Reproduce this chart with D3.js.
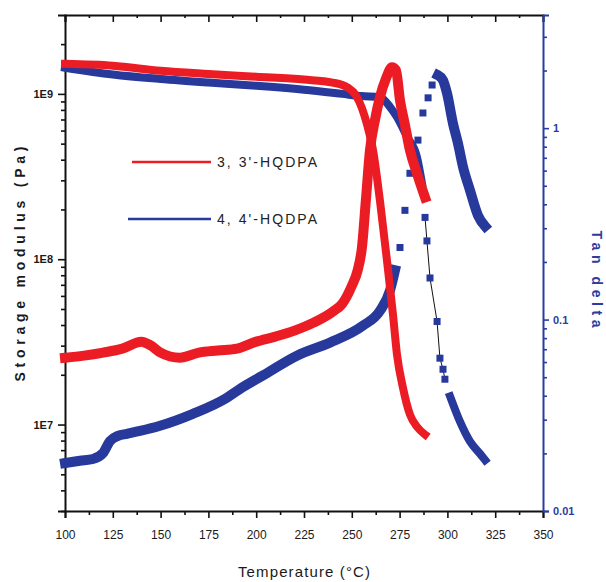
<!DOCTYPE html>
<html><head><meta charset="utf-8">
<script src="https://cdn.jsdelivr.net/npm/d3@7"></script>
<style>body{margin:0;background:#fff}svg{display:block}text{font-family:"Liberation Sans",Arial,sans-serif}</style>
</head><body>
<script>
// ---- data ----
const seriesNames = ["3, 3'-HQDPA", "4, 4'-HQDPA"];
const xTickLabels = [100,125,150,175,200,225,250,275,300,325,350];
const leftTickLabels = ["1E7","1E8","1E9"];
const rightTickLabels = ["0.01","0.1","1"];

// 3,3'-HQDPA storage modulus (Pa)
const redModT = [100,125,150,175,200,225,240,248,252,255.3,258,261.1,264.7,268.4,271.5,273.6,276.8,280.4,284.1,288.3];
const redMod  = [1.52e9,1.48e9,1.38e9,1.32e9,1.27e9,1.22e9,1.17e9,1.09e9,9.86e8,8.2e8,6.5e8,4.57e8,2.27e8,9.8e7,4.67e7,2.67e7,1.66e7,1.15e7,9.7e6,8.7e6];
// 3,3'-HQDPA tan delta
const redTanT = [100,110,120,130,140,145,150,160,170,180,190,200,210,220,230,240,245,250,253,255.3,257.4,259.5,262.1,264.7,268,271,273.1,275.2,277.8,280.4,284.1,288.3];
const redTan  = [0.0632,0.0648,0.0672,0.0705,0.0767,0.0731,0.0672,0.0632,0.0672,0.0689,0.0705,0.0767,0.0815,0.0876,0.0964,0.110,0.121,0.15,0.18,0.238,0.425,0.767,1.10,1.45,1.83,2.08,2.01,1.40,1.04,0.767,0.58,0.435];
// 4,4'-HQDPA storage modulus (Pa)
const blueModT = [100,125,150,175,200,225,245,255,264.7,270,273.6,278.9,284.1,286.7,288.3,289.3,290.9,294.6,296.1,297.7,298.7,301.4,306.6,311.8,317,319.7];
const blueMod  = [1.44e9,1.31e9,1.23e9,1.17e9,1.12e9,1.06e9,1.0e9,9.7e8,9.55e8,8.34e8,7.25e8,5.5e8,4.14e8,2.88e8,1.79e8,1.29e8,7.7e7,4.2e7,2.52e7,2.16e7,1.88e7,1.48e7,1.04e7,7.9e6,6.67e6,6.1e6];
// 4,4'-HQDPA tan delta
const blueTanT = [100,107.8,114.6,119.9,123.5,127.7,132.4,139.2,149.7,166.9,184.7,191.5,203.6,221.3,238.6,255.9,264.7,270,272.6,275.2,277.8,280.4,284.6,287.2,289.9,292,295.1,297.7,299.8,302.9,305.5,308.2,311.8,316,319.7];
const blueTan  = [0.0178,0.0183,0.0187,0.0201,0.0232,0.0247,0.0253,0.0262,0.0279,0.0322,0.0391,0.0434,0.0511,0.0648,0.0758,0.0930,0.111,0.142,0.181,0.238,0.372,0.581,0.866,1.20,1.44,1.68,1.89,1.78,1.52,1.06,0.834,0.625,0.474,0.35,0.307];
// temperature ranges where points are sparse (drawn as separate squares)
const blueModSparse = [288, 299];
const blueTanSparse = [274, 293];

// ---- layout ----
const W = 606, H = 582;
const RED = "#ec1c24", BLUE = "#27399b", AXBLUE = "#2b3ca0";
const svg = d3.select("body").append("svg").attr("width", W).attr("height", H);

const x  = d3.scaleLinear().domain([100, 350]).range([65, 543]);
const yL = d3.scaleLog().domain([3e6, 3e9]).range([511, 15]);
const yR = d3.scaleLog().domain([0.01, 3.9]).range([511, 15]);

function logTicks(lo, hi, decades) {
  const out = [];
  decades.forEach(d => { for (let m = 1; m <= 9; m++) { const v = m * d; if (v >= lo * 0.999 && v <= hi * 1.001) out.push(v); } });
  return out;
}
const isMajorLog = v => Math.abs(Math.log10(v) - Math.round(Math.log10(v))) < 1e-6;

// ---- axes ----
const xAll = d3.range(100, 350.01, 12.5);
const isMajorX = v => Math.abs(v % 25) < 1e-6;

const gB = svg.append("g").attr("transform", "translate(0,511)")
  .call(d3.axisBottom(x).tickValues(xAll).tickSize(7).tickPadding(12)
    .tickFormat(v => isMajorX(v) ? String(xTickLabels[xTickLabels.indexOf(v)]) : ""));
gB.selectAll(".tick line").attr("y2", v => isMajorX(v) ? 7 : 4);

const gT = svg.append("g").attr("transform", "translate(0,15)")
  .call(d3.axisTop(x).tickValues(xAll).tickSize(-7).tickFormat(""));
gT.selectAll(".tick line").attr("y2", v => isMajorX(v) ? 7 : 3);

const lVals = logTicks(3e6, 3e9, [1e6, 1e7, 1e8, 1e9]).filter(v => v < 2.9e9);
const gL = svg.append("g").attr("transform", "translate(65,0)")
  .call(d3.axisLeft(yL).tickValues(lVals).tickSize(7).tickPadding(5)
    .tickFormat(v => isMajorLog(v) ? leftTickLabels[Math.round(Math.log10(v)) - 7] : ""));
gL.selectAll(".tick line").attr("x2", v => isMajorLog(v) ? -7 : -4);

const rVals = logTicks(0.01, 3.9, [0.01, 0.1, 1]);
const gR = svg.append("g").attr("transform", "translate(543,0)")
  .call(d3.axisRight(yR).tickValues(rVals).tickSize(6).tickPadding(4)
    .tickFormat(v => isMajorLog(v) ? rightTickLabels[Math.round(Math.log10(v)) + 2] : ""));
gR.selectAll(".tick line").attr("x2", v => isMajorLog(v) ? 6 : 4);

[gB, gT, gL].forEach(g => {
  g.select(".domain").attr("stroke", "#111").attr("stroke-width", 2);
  g.selectAll(".tick line").attr("stroke", "#111").attr("stroke-width", 1.6);
  g.selectAll(".tick text").attr("fill", "#1a1a1a").style("font-size", "12px");
});
gL.selectAll(".tick text").style("font-size", "11px").style("font-weight", "bold");
gR.select(".domain").attr("stroke", AXBLUE).attr("stroke-width", 2);
gR.selectAll(".tick line").attr("stroke", AXBLUE).attr("stroke-width", 1.6);
gR.selectAll(".tick text").attr("fill", AXBLUE).style("font-size", "11px").style("font-weight", "bold");

// ---- data drawing ----
function pts(T, V) { return T.map((t, i) => ({ t, v: V[i] })); }
function drawSeries(T, V, yScale, color, width, sparse, thinLink) {
  const data = pts(T, V);
  const inSparse = d => sparse && d.t > sparse[0] && d.t < sparse[1];
  if (sparse && thinLink) {
    const link = d3.line().x(d => x(d.t)).y(d => yScale(d.v));
    const sub = data.filter(d => d.t >= sparse[0] - 1 && d.t <= sparse[1] + 1);
    svg.append("path").attr("d", link(sub)).attr("fill", "none").attr("stroke", "#111").attr("stroke-width", 1);
  }
  const line = d3.line().defined(d => !inSparse(d)).x(d => x(d.t)).y(d => yScale(d.v)).curve(d3.curveMonotoneX);
  svg.append("path").attr("d", line(data)).attr("fill", "none")
    .attr("stroke", color).attr("stroke-width", width).attr("stroke-linejoin", "round").attr("stroke-linecap", "square");
  if (sparse) {
    svg.selectAll(null).data(data.filter(inSparse)).enter().append("rect")
      .attr("x", d => x(d.t) - 3.5).attr("y", d => yScale(d.v) - 3.5)
      .attr("width", 7).attr("height", 7).attr("fill", color);
  }
}
drawSeries(blueTanT, blueTan, yR, BLUE, 10, blueTanSparse, false);
drawSeries(blueModT, blueMod, yL, BLUE, 8, blueModSparse, true);
drawSeries(redTanT, redTan, yR, RED, 10, null, false);
drawSeries(redModT, redMod, yL, RED, 8, null, false);

// ---- legend ----
const legY = [162, 219];
const legColors = [RED, BLUE];
seriesNames.forEach((name, i) => {
  svg.append("line").attr("x1", i ? 128 : 132).attr("x2", 211).attr("y1", legY[i]).attr("y2", legY[i])
    .attr("stroke", legColors[i]).attr("stroke-width", 2.5);
  svg.append("text").attr("x", 217).attr("y", legY[i]).attr("dy", "0.36em")
    .attr("textLength", 100).attr("lengthAdjust", "spacing")
    .style("font-size", "14px").attr("fill", "#222").text(name);
});

// ---- titles ----
svg.append("text").attr("x", 304).attr("y", 572).attr("dy", "0.35em").attr("text-anchor", "middle")
  .attr("textLength", 132).attr("lengthAdjust", "spacing")
  .style("font-size", "15px").attr("fill", "#1a1a1a").text("Temperature (°C)");
svg.append("text").attr("transform", "translate(20,264) rotate(-90)").attr("text-anchor", "middle").attr("dy", "0.35em")
  .attr("textLength", 235).attr("lengthAdjust", "spacing")
  .style("font-size", "14px").style("font-weight", "bold").attr("fill", "#1a1a1a").text("Storage modulus (Pa)");
svg.append("text").attr("transform", "translate(597,279) rotate(90)").attr("text-anchor", "middle").attr("dy", "0.35em")
  .attr("textLength", 97).attr("lengthAdjust", "spacing")
  .style("font-size", "14px").style("font-weight", "bold").attr("fill", AXBLUE).text("Tan delta");
</script>
</body></html>
